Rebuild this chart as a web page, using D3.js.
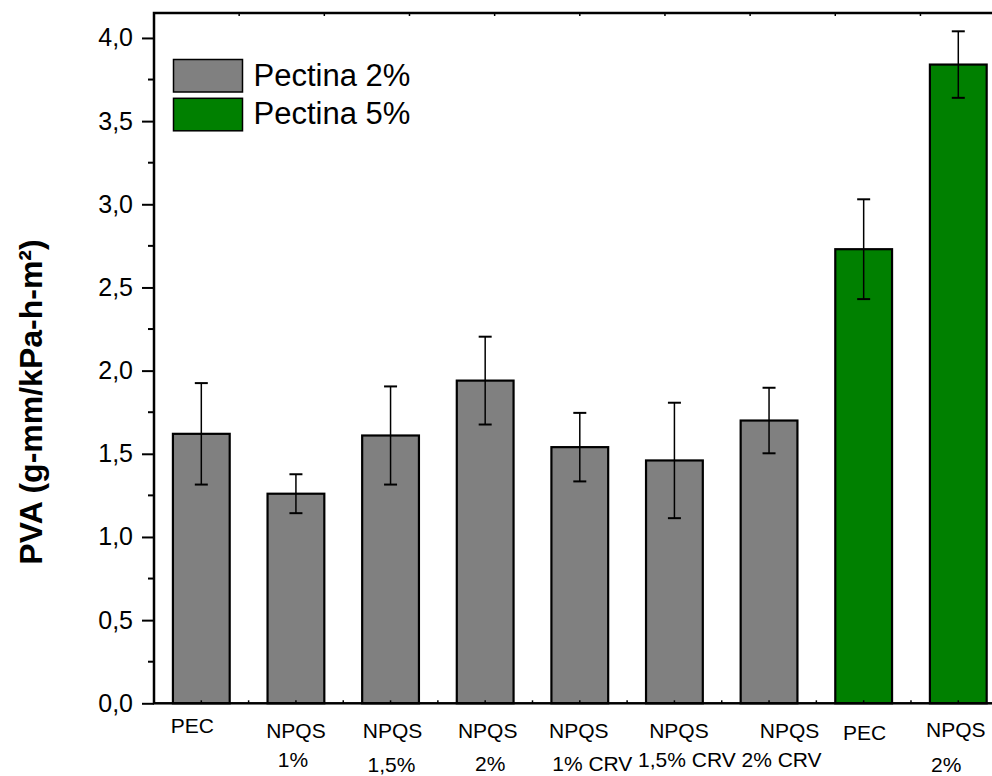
<!DOCTYPE html>
<html>
<head>
<meta charset="utf-8">
<script src="https://d3js.org/d3.v7.min.js"></script>
<style>
  body { margin: 0; background: #fff; }
  text { font-family: "Liberation Sans", Arial, sans-serif; fill: #000; }
</style>
</head>
<body>
<svg id="chart" width="992" height="776"></svg>
<script>
//=======================data=============================================
var line1 = ["PEC", "NPQS", "NPQS", "NPQS", "NPQS", "NPQS", "NPQS", "PEC", "NPQS"];
var line2 = ["", "1%", "1,5%", "2%", "1% CRV", "1,5% CRV", "2% CRV", "", "2%"];
var group = ["Pectina 2%", "Pectina 2%", "Pectina 2%", "Pectina 2%", "Pectina 2%", "Pectina 2%", "Pectina 2%", "Pectina 5%", "Pectina 5%"];
var pva = [1.62, 1.26, 1.61, 1.94, 1.54, 1.46, 1.70, 2.73, 3.84];
var err = [0.305, 0.117, 0.295, 0.264, 0.206, 0.347, 0.197, 0.30, 0.20];
var legendNames = ["Pectina 2%", "Pectina 5%"];
var yTicks = [0, 0.5, 1, 1.5, 2, 2.5, 3, 3.5, 4];

// hand placed category labels in the original (dx from bar centre, baseline y)
var line1Shift = [[-9, 733], [0, 738], [2, 738], [2.5, 738], [-1, 738], [4.5, 738], [20.5, 738], [1, 740], [-2.5, 737]];
var line2Shift = [[0, 771], [-3, 767], [1, 772], [5, 771], [12.5, 771], [12.5, 767], [12.5, 767], [0, 771], [-12, 772]];

var svg = d3.select("#chart");

var plotLeft = 154, plotRight = 1005.6, plotTop = 13, plotBottom = 703.3;

var color = d3.scaleOrdinal()
  .domain(legendNames)
  .range(["#808080", "#008000"]);

var x = d3.scaleBand()
  .domain(d3.range(pva.length))
  .range([plotLeft, plotRight])
  .paddingInner(0.4)
  .paddingOuter(0.2);

var y = d3.scaleLinear()
  .domain([0, 4.15])
  .range([plotBottom, plotTop]);

//=============================bars===================================
svg.selectAll("rect.bar")
  .data(pva)
  .enter()
  .append("rect")
  .attr("class", "bar")
  .attr("x", function(d, i) { return x(i); })
  .attr("y", function(d) { return y(d); })
  .attr("width", x.bandwidth())
  .attr("height", function(d) { return y(0) - y(d); })
  .style("fill", function(d, i) { return color(group[i]); })
  .style("stroke", "#000")
  .style("stroke-width", 2.2);

//==========================error bars=================================
var eb = svg.selectAll("g.err")
  .data(pva)
  .enter()
  .append("g")
  .attr("class", "err")
  .style("stroke", "#000")
  .style("stroke-width", 1.5);

eb.append("line")
  .attr("x1", function(d, i) { return x(i) + x.bandwidth() / 2; })
  .attr("x2", function(d, i) { return x(i) + x.bandwidth() / 2; })
  .attr("y1", function(d, i) { return y(d + err[i]); })
  .attr("y2", function(d, i) { return y(d - err[i]); });

[1, -1].forEach(function(s) {
  eb.append("line")
    .attr("x1", function(d, i) { return x(i) + x.bandwidth() / 2 - 6.5; })
    .attr("x2", function(d, i) { return x(i) + x.bandwidth() / 2 + 6.5; })
    .attr("y1", function(d, i) { return y(d + s * err[i]); })
    .attr("y2", function(d, i) { return y(d + s * err[i]); })
    .style("stroke-width", 2);
});

//=============================axes====================================
var yAxis = d3.axisLeft(y)
  .tickValues(yTicks)
  .tickSize(12)
  .tickPadding(9)
  .tickFormat(function(d) { return d3.format(".1f")(d).replace(".", ","); });

var gy = svg.append("g")
  .attr("transform", "translate(" + plotLeft + ",0)")
  .call(yAxis);
gy.select(".domain").remove();
gy.selectAll(".tick line").style("stroke-width", 2);
gy.selectAll(".tick text")
  .style("font-size", "25px")
  .style("font-family", "'Liberation Sans', Arial, sans-serif");

// minor ticks every 0.25
svg.selectAll("line.minor")
  .data(d3.range(0.25, 4.15, 0.5))
  .enter()
  .append("line")
  .attr("x1", plotLeft - 6)
  .attr("x2", plotLeft)
  .attr("y1", function(d) { return y(d); })
  .attr("y2", function(d) { return y(d); })
  .style("stroke", "#000")
  .style("stroke-width", 2);

// bottom ticks at band centres and edges
var halfStep = x.step() / 2;
svg.selectAll("line.btick")
  .data(d3.range(1, 19))
  .enter()
  .append("line")
  .attr("x1", function(d) { return plotLeft + d * halfStep; })
  .attr("x2", function(d) { return plotLeft + d * halfStep; })
  .attr("y1", plotBottom)
  .attr("y2", plotBottom - 3)
  .style("stroke", "#000")
  .style("stroke-width", 1.5);

// top ticks
var topStep = (plotRight - plotLeft) / 10;
svg.selectAll("line.ttick")
  .data(d3.range(1, 10))
  .enter()
  .append("line")
  .attr("x1", function(d) { return plotLeft + d * topStep; })
  .attr("x2", function(d) { return plotLeft + d * topStep; })
  .attr("y1", plotTop)
  .attr("y2", plotTop + 3)
  .style("stroke", "#000")
  .style("stroke-width", 1.5);

// frame
svg.append("rect")
  .attr("x", plotLeft)
  .attr("y", plotTop)
  .attr("width", plotRight - plotLeft)
  .attr("height", plotBottom - plotTop)
  .style("fill", "none")
  .style("stroke", "#000")
  .style("stroke-width", 2.5);

//==========================category labels============================
var cat = svg.selectAll("g.cat")
  .data(line1)
  .enter()
  .append("g")
  .attr("class", "cat")
  .style("font-size", "21px");

cat.append("text")
  .attr("x", function(d, i) { return x(i) + x.bandwidth() / 2 + line1Shift[i][0]; })
  .attr("y", function(d, i) { return line1Shift[i][1]; })
  .attr("text-anchor", "middle")
  .text(function(d) { return d; });

cat.append("text")
  .attr("x", function(d, i) { return x(i) + x.bandwidth() / 2 + line2Shift[i][0]; })
  .attr("y", function(d, i) { return line2Shift[i][1]; })
  .attr("text-anchor", "middle")
  .text(function(d, i) { return line2[i]; });

//===========================y axis title==============================
svg.append("text")
  .attr("transform", "translate(42,402) rotate(-90)")
  .attr("text-anchor", "middle")
  .style("font-size", "32px")
  .style("font-weight", "bold")
  .text("PVA (g-mm/kPa-h-m²)");

//=============================legend==================================
var legend = svg.selectAll("g.legend")
  .data(legendNames)
  .enter()
  .append("g")
  .attr("class", "legend")
  .attr("transform", function(d, i) { return "translate(173.5," + (59.5 + i * 38.8) + ")"; });

legend.append("rect")
  .attr("width", 69)
  .attr("height", 32.5)
  .style("fill", function(d) { return color(d); })
  .style("stroke", "#000")
  .style("stroke-width", 1.5);

legend.append("text")
  .attr("x", 80)
  .attr("y", 26)
  .style("font-size", "31px")
  .text(function(d) { return d; });
</script>
</body>
</html>
